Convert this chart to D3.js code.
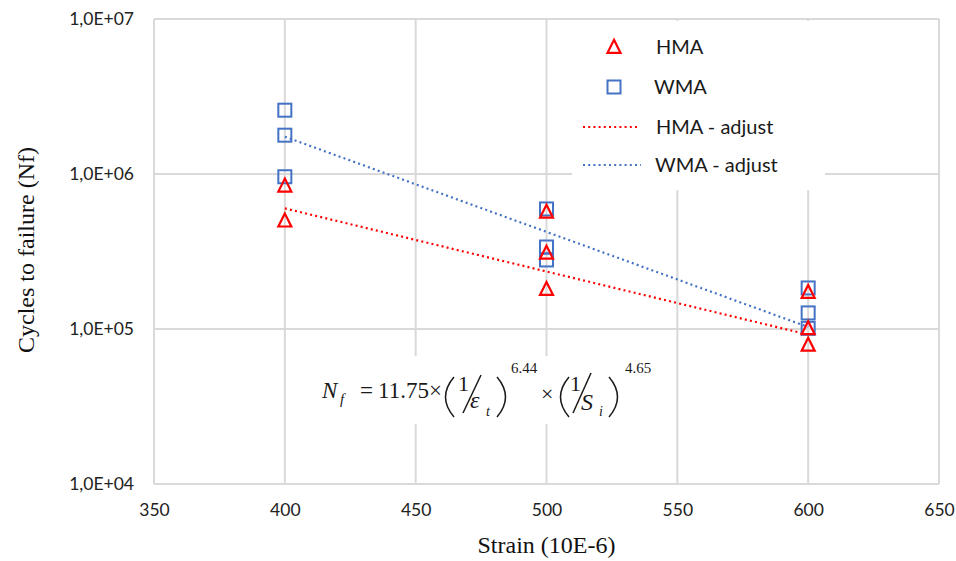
<!DOCTYPE html>
<html>
<head>
<meta charset="utf-8">
<script src="https://cdn.jsdelivr.net/npm/d3@7"></script>
<style>
  body { margin: 0; background: #fff; }
  svg { display: block; }
</style>
</head>
<body>
<div id="chart"></div>
<script>
// data
const hmaStrain = [400, 400, 500, 500, 500, 600, 600, 600];
const hmaCycles = [8.4e5, 5.0e5, 5.7e5, 3.1e5, 1.81e5, 1.73e5, 1.01e5, 7.9e4];
const wmaStrain = [400, 400, 400, 500, 500, 500, 600, 600, 600];
const wmaCycles = [2.58e6, 1.78e6, 9.6e5, 5.95e5, 3.38e5, 2.79e5, 1.84e5, 1.27e5, 1.01e5];
const trendStrain = [400, 600];
const hmaTrend = [6.0e5, 9.2e4];
const wmaTrend = [1.74e6, 1.03e5];
const xTicks = [350, 400, 450, 500, 550, 600, 650];
const yTicks = [1e4, 1e5, 1e6, 1e7];

const width = 956, height = 561;
const margins = {top: 19, right: 17, bottom: 77, left: 154};
const red = "#ff0000", blue = "#4472c4", grid = "#d9d9d9";

const svg = d3.select("#chart").append("svg")
    .attr("width", width).attr("height", height);

const xScale = d3.scaleLinear().domain([350, 650]).range([margins.left, width - margins.right]);
const yScale = d3.scaleLog().domain([1e4, 1e7]).range([height - margins.bottom, margins.top]);

/* gridlines */
svg.append("g").selectAll("line").data(xTicks).join("line")
    .attr("x1", d => xScale(d)).attr("x2", d => xScale(d))
    .attr("y1", yScale(1e7)).attr("y2", yScale(1e4))
    .attr("stroke", grid).attr("stroke-width", 2);
svg.append("g").selectAll("line").data(yTicks).join("line")
    .attr("x1", xScale(350)).attr("x2", xScale(650))
    .attr("y1", d => yScale(d)).attr("y2", d => yScale(d))
    .attr("stroke", grid).attr("stroke-width", 2);

/* axes - only labels, lines are the gridlines */
const xAxis = d3.axisBottom(xScale).tickValues(xTicks).tickSize(0).tickPadding(20);
const yAxis = d3.axisLeft(yScale).tickValues(yTicks).tickSize(0).tickPadding(20)
    .tickFormat(d => "1,0E+0" + Math.round(Math.log10(d)));

const xGroup = svg.append("g").attr("transform", `translate(0,${height - margins.bottom})`).call(xAxis);
const yGroup = svg.append("g").attr("transform", `translate(${margins.left},0)`).call(yAxis);
[xGroup, yGroup].forEach(g => {
  g.select(".domain").remove();
  g.selectAll("text").style("font-family", "Lato, sans-serif").style("font-size", "17.5px").attr("fill", "#222");
});

/* white boxes behind legend and formula */
svg.append("rect").attr("x", 572).attr("y", 21).attr("width", 253).attr("height", 169).attr("fill", "#fff");
svg.append("rect").attr("x", 302).attr("y", 356).attr("width", 362).attr("height", 68).attr("fill", "#fff");

/* trendlines */
const line = d3.line().x(d => xScale(d[0])).y(d => yScale(d[1]));
svg.append("path").datum(d3.zip(trendStrain, hmaTrend)).attr("d", line)
    .attr("fill", "none").attr("stroke", red).attr("stroke-width", 2.2).attr("stroke-dasharray", "2,3.2");
svg.append("path").datum(d3.zip(trendStrain, wmaTrend)).attr("d", line)
    .attr("fill", "none").attr("stroke", blue).attr("stroke-width", 2.2).attr("stroke-dasharray", "2,3.2");

/* markers */
const tri = (cx, cy, s) => `M${cx},${cy - s * 0.55}L${cx + s / 2},${cy + s * 0.45}L${cx - s / 2},${cy + s * 0.45}Z`;
const sq = 13;
svg.append("g").selectAll("rect").data(d3.zip(wmaStrain, wmaCycles)).join("rect")
    .attr("x", d => xScale(d[0]) - sq / 2).attr("y", d => yScale(d[1]) - sq / 2)
    .attr("width", sq).attr("height", sq)
    .attr("fill", "none").attr("stroke", blue).attr("stroke-width", 2);
svg.append("g").selectAll("path").data(d3.zip(hmaStrain, hmaCycles)).join("path")
    .attr("d", d => tri(xScale(d[0]), yScale(d[1]), 13))
    .attr("fill", "none").attr("stroke", red).attr("stroke-width", 2.2);

/* legend */
const lg = svg.append("g").style("font-family", "Lato, sans-serif").style("font-size", "20px").attr("fill", "#1a1a1a");
lg.append("path").attr("d", tri(614, 47, 13)).attr("fill", "none").attr("stroke", red).attr("stroke-width", 2.2);
lg.append("text").attr("x", 656).attr("y", 54).text("HMA");
lg.append("rect").attr("x", 614 - sq / 2).attr("y", 87 - sq / 2).attr("width", sq).attr("height", sq)
    .attr("fill", "none").attr("stroke", blue).attr("stroke-width", 2);
lg.append("text").attr("x", 654).attr("y", 94).text("WMA");
lg.append("line").attr("x1", 583).attr("x2", 639).attr("y1", 127).attr("y2", 127)
    .attr("stroke", red).attr("stroke-width", 2.2).attr("stroke-dasharray", "2,3.2");
lg.append("text").attr("x", 656).attr("y", 134).text("HMA - adjust");
lg.append("line").attr("x1", 583).attr("x2", 641).attr("y1", 165).attr("y2", 165)
    .attr("stroke", blue).attr("stroke-width", 2.2).attr("stroke-dasharray", "2,3.2");
lg.append("text").attr("x", 655).attr("y", 172).text("WMA - adjust");

/* axis titles */
svg.append("text").attr("x", (margins.left + width - margins.right) / 2).attr("y", 553)
    .attr("text-anchor", "middle").style("font-family", "'Liberation Serif', serif").style("font-size", "24px")
    .attr("fill", "#111").text("Strain (10E-6)");
svg.append("text").attr("transform", "translate(34,250) rotate(-90)")
    .attr("text-anchor", "middle").style("font-family", "'Liberation Serif', serif").style("font-size", "24px")
    .attr("fill", "#111").text("Cycles to failure (Nf)");

/* formula */
const fm = svg.append("g").style("font-family", "'Liberation Serif', serif").attr("fill", "#1a1a1a");
const t = (x, y, s, txt, it) => fm.append("text").attr("x", x).attr("y", y).style("font-size", s + "px")
    .style("font-style", it ? "italic" : "normal").text(txt);
t(322, 398, 23, "N", true);
t(340, 404, 15, "f", true);
t(360, 398, 23, "=");
t(378, 398, 23, "11.75\u00d7");
t(458, 391, 22, "1");
t(470, 408, 24, "\u03b5", true);
t(486, 416, 14, "t", true);
t(511, 373, 15, "6.44");
t(541, 401, 22, "\u00d7");
t(570, 391, 22, "1");
t(581, 410, 24, "S", true);
t(599, 416, 14, "i", true);
t(625, 373, 15, "4.65");
const fp = (d) => fm.append("path").attr("d", d).attr("fill", "none").attr("stroke", "#1a1a1a").attr("stroke-width", 1.5);
fp("M454,377Q437,397 454,417");
fp("M497,377Q514,397 497,417");
fp("M569,377Q552,397 569,417");
fp("M609,377Q626,397 609,417");
fp("M463,413L481,375");
fp("M573,413L591,373");
</script>
</body>
</html>
